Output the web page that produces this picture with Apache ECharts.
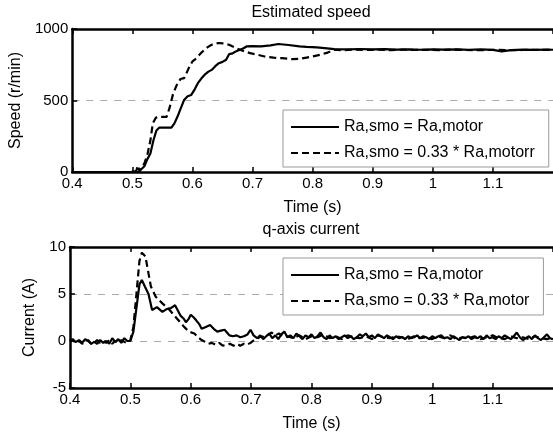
<!DOCTYPE html>
<html><head><meta charset="utf-8">
<script src="https://cdn.jsdelivr.net/npm/echarts@6/dist/echarts.min.js"></script>
<style>html,body{margin:0;padding:0;background:#fff}#c{width:553px;height:439px}</style>
</head><body><div id="c"></div>
<script>
// ---------- data ----------
const nameSolid = 'Ra,smo = Ra,motor';
const nameDashTop = 'Ra,smo = 0.33 * Ra,motorr';
const nameDashBot = 'Ra,smo = 0.33 * Ra,motor';

// Estimated speed (r/min)
const speedSolidT = [0.40,0.50,0.51,0.513,0.52,0.525,0.53,0.535,0.54,0.545,0.565,0.57,0.575,0.58,0.586,0.592,0.598,0.604,0.609,0.615,0.62,0.626,0.632,0.638,0.644,0.65,0.656,0.661,0.667,0.673,0.679,0.685,0.69,0.70,0.714,0.73,0.743,0.76,0.778,0.79,0.807,0.82,0.836,0.86,0.88,0.90,0.92,0.94,0.96,0.98,1.0,1.02,1.04,1.06,1.08,1.10,1.115,1.13,1.15,1.17,1.19,1.2];
const speedSolidV = [0,0,0,5,40,90,130,220,290,311,311,340,386,440,503,530,539,580,621,655,679,700,714,740,761,770,785,824,830,845,855,865,878,880,878,885,895,888,878,875,871,866,859,858,860,857,859,856,858,855,857,856,858,855,857,854,843,852,856,854,856,855];

const speedDashT = [0.40,0.50,0.503,0.506,0.509,0.512,0.515,0.52,0.525,0.53,0.534,0.539,0.545,0.557,0.562,0.568,0.574,0.58,0.586,0.59,0.595,0.60,0.605,0.609,0.615,0.62,0.626,0.632,0.638,0.644,0.65,0.656,0.661,0.67,0.679,0.688,0.696,0.708,0.72,0.735,0.749,0.766,0.78,0.79,0.80,0.813,0.825,0.836,0.85,0.87,0.89,0.91,0.93,0.95,0.97,0.99,1.01,1.03,1.05,1.07,1.09,1.11,1.13,1.15,1.17,1.2];
const speedDashV = [0,0,25,0,45,5,30,60,120,220,340,380,386,386,450,550,609,650,656,690,738,773,790,808,835,855,875,890,898,902,900,894,890,872,855,842,831,820,808,800,796,789,792,800,808,820,835,855,852,856,853,855,852,856,853,855,852,856,854,851,853,855,852,853,855,854];

// q-axis current (A)
const curPreStart = 0.40, curPreStep = 0.005;
const curSolidPre = [0.2,0.0,-0.1,0.1,-0.2,0.2,0.0,-0.3,-0.1,-0.3,0.1,-0.2,0.0,-0.3,0.3,-0.1,0.2,-0.2,0.3,0.0,0.0];
const curDashPre  = [-0.1,0.2,-0.2,0.0,-0.3,-0.1,0.1,-0.3,-0.2,0.1,-0.2,0.0,-0.2,0.1,-0.3,0.0,-0.2,0.1,-0.1,-0.2,0.1];

const curSolidT = [0.505,0.51,0.515,0.519,0.524,0.53,0.536,0.544,0.553,0.56,0.567,0.574,0.579,0.583,0.588,0.592,0.596,0.6,0.605,0.609,0.614,0.618,0.625,0.632,0.638,0.644,0.65,0.656,0.66,0.664,0.67,0.676,0.682,0.688,0.694,0.699,0.704];
const curSolidV = [1.0,3.5,6.0,6.5,5.8,5.0,3.3,3.6,3.1,3.4,3.5,3.8,3.2,2.7,2.4,2.0,2.3,2.8,2.5,2.2,1.8,1.3,1.5,1.7,1.3,1.0,1.1,1.2,0.9,0.6,0.5,0.6,0.4,0.5,0.7,1.2,0.6];
const curSolidTailStart = 0.71, curSolidTailStep = 0.005;
const curSolidTail = [
  0.3,0.6,0.2,0.5,0.8,0.3,0.6,0.2,0.7,1.0,0.4,0.6,0.3,0.8,0.5,0.2,0.6,0.4,0.7,
  0.3,0.5,0.9,0.4,0.2,0.6,0.3,0.5,0.2,0.4,0.6,0.3,0.5,0.2,0.4,0.7,0.5,0.8,0.4,0.6,
  0.3,0.7,0.5,0.3,0.6,0.4,0.2,0.5,0.3,0.4,0.2,0.5,0.3,0.4,0.6,0.3,0.5,0.4,0.2,0.5,
  0.3,0.5,0.6,0.3,0.4,0.2,0.5,0.3,0.1,0.4,0.3,0.5,0.2,0.4,0.3,0.5,0.2,0.6,0.3,0.4,
  0.2,0.5,0.3,0.6,0.4,0.2,0.5,0.9,0.4,0.1,0.3,0.5,0.2,0.6,0.3,0.1,0.4,0.7,0.3,0.2];

const curDashT = [0.505,0.51,0.515,0.519,0.522,0.525,0.528,0.534,0.542,0.553,0.565,0.577,0.589,0.597,0.606,0.612,0.618,0.624,0.629,0.635,0.641,0.647,0.653,0.659,0.665,0.671,0.677,0.682,0.688,0.693,0.699,0.705,0.711,0.717,0.723,0.729,0.734,0.74,0.746,0.752];
const curDashV = [1.5,5.0,8.5,9.4,9.6,9.0,7.9,5.8,4.7,4.0,3.3,2.4,1.5,1.0,0.8,0.4,0.1,-0.1,-0.3,-0.2,-0.4,-0.2,-0.5,-0.4,-0.3,-0.5,-0.3,-0.5,-0.3,-0.4,-0.2,0.1,0.3,0.5,0.4,0.7,0.9,0.6,0.8,0.5];
const curDashTailStart = 0.76, curDashTailStep = 0.01;
const curDashTail = [0.5,0.3,0.6,0.2,0.5,0.4,0.7,0.3,0.5,0.2,
  0.6,0.4,0.3,0.5,0.2,0.6,0.4,0.3,0.5,0.4,
  0.2,0.5,0.3,0.4,0.2,0.5,0.3,0.6,0.2,0.4,
  0.3,0.5,0.2,0.4,0.6,0.3,0.2,0.5,0.3,0.4,
  0.2,0.5,0.3,0.2,0.4];

// ---------- build ----------
function pairs(t, v){ return t.map((x,i)=>[x, v[i]]); }
function sampled(start, step, v){ return v.map((y,i)=>[+(start+i*step).toFixed(4), y]); }

const FONT = 'Liberation Sans, Arial, sans-serif';
const txt = {color:'#000', fontFamily: FONT};
const plain = v => String(+v.toFixed(4));

function xAxisBottom(gi){
  return {type:'value', gridIndex:gi, min:0.4, max:1.2, interval:0.1, position:'bottom',
    name:'Time (s)', nameLocation:'middle', nameGap:28,
    nameTextStyle:{...txt, fontSize:16},
    axisLine:{show:true, onZero:false, lineStyle:{color:'#000', width:2.5}},
    axisTick:{show:true, inside:true, length:5, lineStyle:{color:'#000', width:1.5}},
    axisLabel:{...txt, fontSize:15, margin:4, showMaxLabel:false, formatter:plain},
    splitLine:{show:false}};
}
function xAxisTop(gi){
  return {type:'value', gridIndex:gi, min:0.4, max:1.2, interval:0.1, position:'top',
    axisLine:{show:true, onZero:false, lineStyle:{color:'#000', width:2.5}},
    axisTick:{show:true, inside:true, length:5, lineStyle:{color:'#000', width:1.5}},
    axisLabel:{show:false}, splitLine:{show:false}};
}
function yAxis(gi, min, max, interval, name, gap){
  return {type:'value', gridIndex:gi, min, max, interval,
    name, nameLocation:'middle', nameGap:gap, nameTextStyle:{...txt, fontSize:16},
    axisLine:{show:true, onZero:false, lineStyle:{color:'#000', width:2.5}},
    axisTick:{show:true, inside:true, length:5, lineStyle:{color:'#000', width:1.5}},
    axisLabel:{...txt, fontSize:15, margin:4, formatter:plain},
    splitLine:{show:true, lineStyle:{color:'#aaa', width:1, type:[7,7]}}};
}
function legend(top, names){
  return {data:names, orient:'vertical', left:283, top, width:265,
    padding:[9,14,6,7], itemGap:10, itemWidth:48, itemHeight:14,
    backgroundColor:'#fff', borderColor:'#999', borderWidth:1,
    itemStyle:{opacity:0},
    textStyle:{...txt, fontSize:16}, selectedMode:false};
}
const solidStyle = {color:'#000', width:2.2};
const dashStyle = {color:'#000', width:2.2, type:[7,4]};

const option = {
  animation:false,
  backgroundColor:'#fff',
  title:[
    {text:'Estimated speed', left:311, top:5, textAlign:'center', padding:0,
     textStyle:{...txt, fontSize:16, fontWeight:'normal'}},
    {text:'q-axis current', left:311, top:222, textAlign:'center', padding:0,
     textStyle:{...txt, fontSize:16, fontWeight:'normal'}}
  ],
  legend:[legend(110, [nameSolid, nameDashTop]), legend(258, [nameSolid, nameDashBot])],
  grid:[
    {left:70, top:29, width:490, height:143},
    {left:70, top:247, width:490, height:141}
  ],
  xAxis:[xAxisBottom(0), xAxisTop(0), xAxisBottom(1), xAxisTop(1)],
  yAxis:[yAxis(0, 0, 1000, 500, 'Speed (r/min)', 45), yAxis(1, -5, 10, 5, 'Current (A)', 32)],
  series:[
    {type:'line', name:nameSolid, xAxisIndex:0, yAxisIndex:0, showSymbol:false, symbol:'none',
     color:'#000', lineStyle:solidStyle, data:pairs(speedSolidT, speedSolidV), z:3},
    {type:'line', name:nameDashTop, xAxisIndex:0, yAxisIndex:0, showSymbol:false, symbol:'none',
     color:'#000', lineStyle:dashStyle, data:pairs(speedDashT, speedDashV), z:3},
    {type:'line', name:nameSolid, xAxisIndex:2, yAxisIndex:1, showSymbol:false, symbol:'none',
     color:'#000', lineStyle:solidStyle,
     data:[...sampled(curPreStart, curPreStep, curSolidPre), ...pairs(curSolidT, curSolidV), ...sampled(curSolidTailStart, curSolidTailStep, curSolidTail)], z:3},
    {type:'line', name:nameDashBot, xAxisIndex:2, yAxisIndex:1, showSymbol:false, symbol:'none',
     color:'#000', lineStyle:dashStyle,
     data:[...sampled(curPreStart, curPreStep, curDashPre), ...pairs(curDashT, curDashV), ...sampled(curDashTailStart, curDashTailStep, curDashTail)], z:3}
  ]
};
const chart = echarts.init(document.getElementById('c'), null, {renderer:'canvas'});
chart.setOption(option);
</script></body></html>
